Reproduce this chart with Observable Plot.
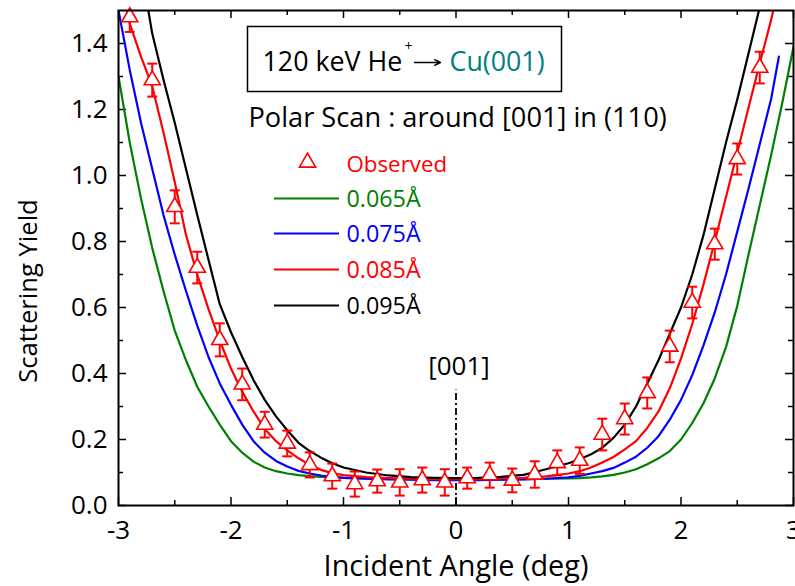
<!DOCTYPE html>
<html><head><meta charset="utf-8">
<script src="https://cdn.jsdelivr.net/npm/d3@7"></script>
<script src="https://cdn.jsdelivr.net/npm/@observablehq/plot@0.6"></script>
<style>html,body{margin:0;padding:0;background:#fff;overflow:hidden}</style>
</head><body><div id="chart"></div>
<script>
// ---- data ----
const angles = [-3.0,-2.9,-2.8,-2.7,-2.6,-2.5,-2.4,-2.3,-2.2,-2.1,-2.0,-1.9,-1.8,-1.7,-1.6,-1.5,-1.4,-1.3,-1.2,-1.1,-1.0,
  -0.8,-0.6,-0.4,-0.2,0,0.2,0.4,0.6,0.8,
  1.0,1.1,1.2,1.3,1.4,1.5,1.6,1.7,1.8,1.9,2.0,2.1,2.2,2.3,2.4,2.5,2.6,2.7,2.8,2.9,3.0];
const yield065 = [1.30,1.10,0.93,0.78,0.65,0.53,0.44,0.36,0.30,0.245,0.195,0.16,0.133,0.115,0.104,0.097,0.092,0.089,0.087,0.085,0.084,
  0.082,0.081,0.080,0.080,0.080,0.079,0.079,0.080,0.081,
  0.082,0.083,0.085,0.088,0.093,0.100,0.110,0.125,0.143,0.165,0.20,0.25,0.31,0.385,0.48,0.605,0.76,0.91,1.06,1.22,1.39];
const angles075 = [-3.0,-2.9,-2.8,-2.7,-2.6,-2.5,-2.4,-2.3,-2.2,-2.1,-2.0,-1.9,-1.8,-1.7,-1.6,-1.5,-1.4,-1.3,-1.2,-1.1,-1.0,
  -0.8,-0.6,-0.4,-0.2,0,0.2,0.4,0.6,0.8,
  1.0,1.1,1.2,1.3,1.4,1.5,1.6,1.7,1.8,1.9,2.0,2.1,2.2,2.3,2.4,2.5,2.6,2.7,2.8,2.87];
const yield075 = [1.50,1.32,1.16,1.02,0.88,0.76,0.65,0.545,0.45,0.37,0.305,0.245,0.195,0.16,0.135,0.118,0.105,0.097,0.091,0.087,0.084,
  0.081,0.079,0.078,0.077,0.077,0.077,0.078,0.079,0.081,
  0.085,0.090,0.097,0.104,0.114,0.130,0.148,0.175,0.21,0.26,0.32,0.395,0.485,0.585,0.70,0.83,0.96,1.095,1.23,1.36];
const yield085 = [1.62,1.46,1.36,1.27,1.13,0.98,0.82,0.70,0.595,0.50,0.415,0.345,0.285,0.232,0.195,0.167,0.143,0.123,0.108,0.098,0.092,
  0.086,0.083,0.081,0.080,0.080,0.080,0.082,0.084,0.088,
  0.097,0.104,0.115,0.130,0.147,0.170,0.195,0.235,0.285,0.355,0.445,0.55,0.67,0.80,0.935,1.07,1.205,1.34,1.47,1.62,1.78];
const yield095 = [1.92,1.77,1.63,1.43,1.29,1.16,1.02,0.88,0.745,0.61,0.525,0.45,0.38,0.32,0.27,0.228,0.19,0.165,0.145,0.128,0.115,
  0.100,0.091,0.086,0.084,0.083,0.084,0.087,0.093,0.110,
  0.128,0.140,0.155,0.175,0.205,0.245,0.30,0.37,0.44,0.52,0.60,0.70,0.82,0.96,1.10,1.23,1.37,1.51,1.65,1.80,1.95];

const obsAngles = [-2.9,-2.7,-2.5,-2.3,-2.1,-1.9,-1.7,-1.5,-1.3,-1.1,-0.9,-0.7,-0.5,-0.3,-0.1,
  0.1,0.3,0.5,0.7,0.9,1.1,1.3,1.5,1.7,1.9,2.1,2.3,2.5,2.7];
const obsYield = [1.48,1.289,0.905,0.721,0.502,0.367,0.245,0.188,0.123,0.089,0.065,0.074,0.070,0.077,0.070,
  0.083,0.092,0.076,0.094,0.129,0.136,0.215,0.262,0.341,0.482,0.615,0.792,1.050,1.327];
const obsError = [0.045,0.05,0.05,0.048,0.05,0.048,0.039,0.039,0.038,0.038,0.038,0.035,0.04,0.038,0.04,
  0.032,0.038,0.036,0.04,0.038,0.04,0.048,0.047,0.047,0.048,0.048,0.047,0.047,0.048];

const seriesNames = ["0.065Å","0.075Å","0.085Å","0.095Å"];
const seriesColors = ["#008000","#0000ff","#ff0000","#000000"];
const obsName = "Observed";
const xTicksMajor = [-3,-2,-1,0,1,2,3];
const xTicksMinor = [-2.5,-1.5,-0.5,0.5,1.5,2.5];
const yTicksMajor = [0,0.2,0.4,0.6,0.8,1.0,1.2,1.4];
const yTicksMinor = [0.1,0.3,0.5,0.7,0.9,1.1,1.3];
const xLabel = "Incident Angle (deg)";
const yLabel = "Scattering Yield";
const titleMain = "120 keV He";
const titleSup = "+";
const titleTarget = "Cu(001)";
const subtitle = "Polar Scan : around [001] in (110)";
const axisMark = "[001]";
const axisMarkTop = 0.35;

// ---- build tables ----
const curves = [
  {name: seriesNames[0], color: seriesColors[0], xs: angles, ys: yield065},
  {name: seriesNames[1], color: seriesColors[1], xs: angles075, ys: yield075},
  {name: seriesNames[2], color: seriesColors[2], xs: angles, ys: yield085},
  {name: seriesNames[3], color: seriesColors[3], xs: angles, ys: yield095}
].flatMap(s => s.xs.map((x, i) => ({series: s.name, color: s.color, x, y: s.ys[i]})));
const obs = obsAngles.map((x, i) => ({x, y: obsYield[i], err: obsError[i]}));

// ---- layout ----
const W = 795, H = 586, mL = 118, mR = 2, mT = 10, mB = 81;
const pw = W - mL - mR, ph = H - mT - mB;
const fx = px => -3 + (px - mL) / pw * 6;
const fy = py => (H - mB - py) / ph * 1.5;
const FONT = "Open Sans";

const capSymbol = {draw(ctx, size) { const r = Math.sqrt(size / Math.PI); ctx.moveTo(-r, 0); ctx.lineTo(r, 0); }};

const ann = (text, px, py, o = {}) => Plot.text([text], {text: d => d, frameAnchor: "top-left",
  dx: px - mL, dy: py - mT, textAnchor: "start", lineAnchor: "middle", fontSize: 24, ...o});

const legendY = [198, 233, 269, 305];

const marks = [
  // ticks (inward, mirrored)
  Plot.tickX(xTicksMajor, {x: d => d, insetTop: ph - 8, stroke: "black", strokeWidth: 1.5}),
  Plot.tickX(xTicksMajor, {x: d => d, insetBottom: ph - 8, stroke: "black", strokeWidth: 1.5}),
  Plot.tickX(xTicksMinor, {x: d => d, insetTop: ph - 5, stroke: "black", strokeWidth: 1.5}),
  Plot.tickX(xTicksMinor, {x: d => d, insetBottom: ph - 5, stroke: "black", strokeWidth: 1.5}),
  Plot.tickY(yTicksMajor, {y: d => d, insetRight: pw - 8, stroke: "black", strokeWidth: 1.5}),
  Plot.tickY(yTicksMajor, {y: d => d, insetLeft: pw - 8, stroke: "black", strokeWidth: 1.5}),
  Plot.tickY(yTicksMinor, {y: d => d, insetRight: pw - 5, stroke: "black", strokeWidth: 1.5}),
  Plot.tickY(yTicksMinor, {y: d => d, insetLeft: pw - 5, stroke: "black", strokeWidth: 1.5}),
  Plot.axisX({ticks: xTicksMajor, tickSize: 0, tickPadding: 15, tickFormat: d => String(d), label: null, fontSize: 26}),
  Plot.axisY({ticks: yTicksMajor, tickSize: 0, tickPadding: 11, tickFormat: d3.format(".1f"), label: null, fontSize: 26}),
  // [001] marker
  Plot.ruleX([0], {y1: 0, y2: axisMarkTop, stroke: "black", strokeWidth: 1.8, strokeDasharray: "7,3,2,3"}),
  Plot.text([axisMark], {x: 0, y: fy(366), dx: 3, text: d => d, fontSize: 26, lineAnchor: "middle"}),
  // curves
  Plot.line(curves, {x: "x", y: "y", z: "series", stroke: "color", strokeWidth: 2.2, clip: true}),
  // observed
  Plot.ruleX(obs, {x: "x", y1: d => d.y - d.err, y2: d => d.y + d.err, stroke: "red", strokeWidth: 2, clip: true}),
  Plot.dot(obs, {x: "x", y: d => d.y - d.err, symbol: capSymbol, r: 5, stroke: "red", strokeWidth: 2, clip: true}),
  Plot.dot(obs, {x: "x", y: d => d.y + d.err, symbol: capSymbol, r: 5, stroke: "red", strokeWidth: 2, clip: true}),
  Plot.dot(obs, {x: "x", y: "y", symbol: "triangle", r: 6, stroke: "red", fill: "white", strokeWidth: 1.6}),
  // frame
  Plot.frame({stroke: "black", strokeWidth: 2}),
  // title box
  Plot.frame({insetLeft: 247 - mL, insetRight: (W - mR) - 561, insetTop: 26 - mT, insetBottom: (H - mB) - 91, stroke: "black", strokeWidth: 1.5}),
  ann(titleMain, 262, 62, {fontSize: 26.8}),
  ann(titleSup, 404, 46, {fontSize: 14}),
  Plot.arrow([0], {x1: fx(414), x2: fx(440), y1: fy(62), y2: fy(62), stroke: "black", strokeWidth: 1.4, headLength: 7, headAngle: 50}),
  ann(titleTarget, 449, 62, {fontSize: 26.8, fill: "#008080"}),
  ann(subtitle, 248, 118, {fontSize: 27.2}),
  // legend
  Plot.dot([obsName], {frameAnchor: "top-left", dx: 307 - mL, dy: 162 - mT, symbol: "triangle", r: 6, stroke: "red", fill: "white", strokeWidth: 1.6}),
  ann(obsName, 346, 164, {fill: "red", fontSize: 22.3}),
  ...seriesNames.map((n, i) => Plot.ruleY([fy(legendY[i])], {insetLeft: 274 - mL, insetRight: (W - mR) - 339, stroke: seriesColors[i], strokeWidth: 2.2})),
  ...seriesNames.map((n, i) => ann(n, 346, legendY[i] + 1, {fill: seriesColors[i], fontSize: 23.3})),
  // axis titles
  Plot.text([xLabel], {text: d => d, frameAnchor: "bottom", dy: 61, textAnchor: "middle", lineAnchor: "middle", fontSize: 28.8}),
  Plot.text([yLabel], {text: d => d, frameAnchor: "left", dx: -90, dy: 33, textAnchor: "middle", rotate: -90, lineAnchor: "middle", fontSize: 25.6})
];

const chart = Plot.plot({
  width: W, height: H,
  marginLeft: mL, marginRight: mR, marginTop: mT, marginBottom: mB,
  x: {domain: [-3, 3]},
  y: {domain: [0, 1.5]},
  style: {fontFamily: FONT, fontSize: "24px", background: "white", color: "black"},
  marks
});
document.getElementById("chart").appendChild(chart);
</script>
</body></html>
